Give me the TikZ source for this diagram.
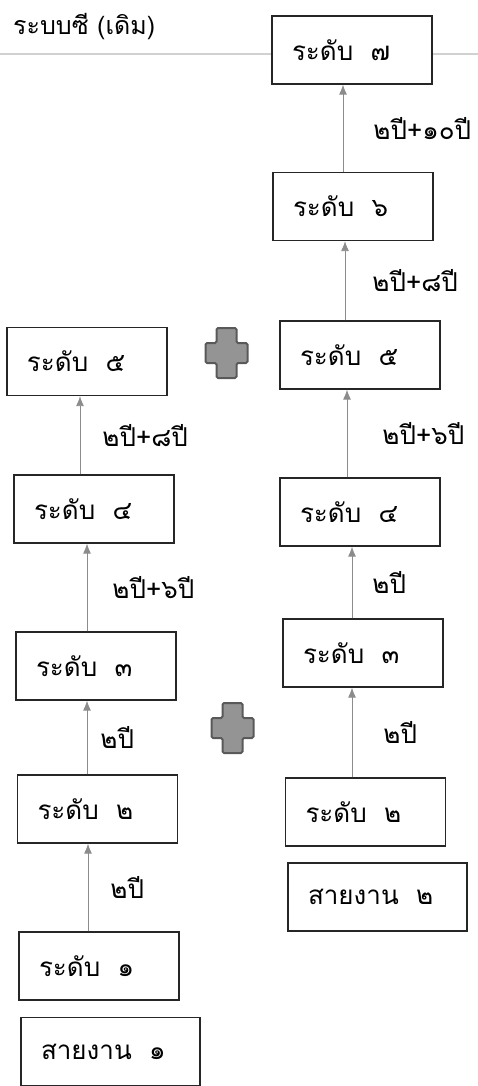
\documentclass[tikz,border=0pt]{standalone}
\usepackage{fontspec}
\newfontfamily\thaifont[Script=Thai]{Loma}
\usetikzlibrary{arrows.meta,positioning}

\begin{document}
\begin{tikzpicture}[
  x=1pt, y=1pt,
  lvl/.style={draw=black!85, line width=1.3pt, fill=white, minimum width=160pt, minimum height=68pt, text width=120pt, inner xsep=20pt, align=left, font=\thaifont\fontsize{26}{30}\selectfont},
  lane/.style={lvl, minimum width=179pt, text width=139pt},
  lbl/.style={inner sep=0pt, font=\thaifont\fontsize{26}{30}\selectfont},
  ttl/.style={inner sep=0pt, anchor=west, font=\thaifont\fontsize{25}{30}\selectfont},
  arr/.style={-{Latex[length=10pt, width=8pt]}, draw=black!45, fill=black!35, line width=0.9pt},
  plussign/.pic={\draw[line width=2pt, draw=black!65, fill=black!42, rounded corners=1.5pt]
    (-10,25) -- (10,25) -- (10,10) -- (21,10) -- (21,-10) -- (10,-10) -- (10,-25)
    -- (-10,-25) -- (-10,-10) -- (-21,-10) -- (-21,10) -- (-10,10) -- cycle;}
]
\useasboundingbox (0,0) rectangle (478,-1086);

% heading and rule
\node[ttl] (title) at (13,-27) {ระบบซี (เดิม)};
\coordinate (ruleL) at (0,-54);
\coordinate (ruleR) at (478,-54);
\draw[black!18, line width=2pt] (ruleL) -- (ruleR);

% line 1
\node[lane] (s1) at (110.5,-1051.5) {สายงาน~~๑};
\node[lvl] (l1) at (99,-966) {ระดับ~~๑};
\node[lvl] (l2) at (97.5,-809) {ระดับ~~๒};
\node[lvl] (l3) at (96,-666) {ระดับ~~๓};
\node[lvl] (l4) at (94,-509) {ระดับ~~๔};
\node[lvl] (l5) at (87,-361.5) {ระดับ~~๕};

% line 2
\node[lane] (s2) at (377.5,-897) {สายงาน~~๒};
\node[lvl] (r2) at (365.5,-812) {ระดับ~~๒};
\node[lvl] (r3) at (363,-653) {ระดับ~~๓};
\node[lvl] (r4) at (360,-512) {ระดับ~~๔};
\node[lvl] (r5) at (360,-355) {ระดับ~~๕};
\node[lvl] (r6) at (353,-206.5) {ระดับ~~๖};
\node[lvl] (r7) at (352,-50) {ระดับ~~๗};

% steps
\draw[arr] ([xshift=-11pt]l1.north) -- node[lbl, right=22pt] {๒ปี} ([xshift=-11pt]l1.north |- l2.south);
\draw[arr] ([xshift=-10.5pt]l2.north) -- node[lbl, right=13pt] {๒ปี} ([xshift=-10.5pt]l2.north |- l3.south);
\draw[arr] ([xshift=-9pt]l3.north) -- node[lbl, right=25pt] {๒ปี+๖ปี} ([xshift=-9pt]l3.north |- l4.south);
\draw[arr] ([xshift=-14pt]l4.north) -- node[lbl, right=22pt] {๒ปี+๘ปี} ([xshift=-14pt]l4.north |- l5.south);
\draw[arr] ([xshift=-13.5pt]r2.north) -- node[lbl, right=31pt] {๒ปี} ([xshift=-13.5pt]r2.north |- r3.south);
\draw[arr] ([xshift=-11pt]r3.north) -- node[lbl, right=20pt] {๒ปี} ([xshift=-11pt]r3.north |- r4.south);
\draw[arr] ([xshift=-13pt]r4.north) -- node[lbl, right=35pt] {๒ปี+๖ปี} ([xshift=-13pt]r4.north |- r5.south);
\draw[arr] ([xshift=-15pt]r5.north) -- node[lbl, right=27pt] {๒ปี+๘ปี} ([xshift=-15pt]r5.north |- r6.south);
\draw[arr] ([xshift=-10pt]r6.north) -- node[lbl, right=30pt] {๒ปี+๑๐ปี} ([xshift=-10pt]r6.north |- r7.south);

% plus signs
\pic at (226.5,-353) {plussign};
\pic at (232.5,-728) {plussign};
\end{tikzpicture}
\end{document}
